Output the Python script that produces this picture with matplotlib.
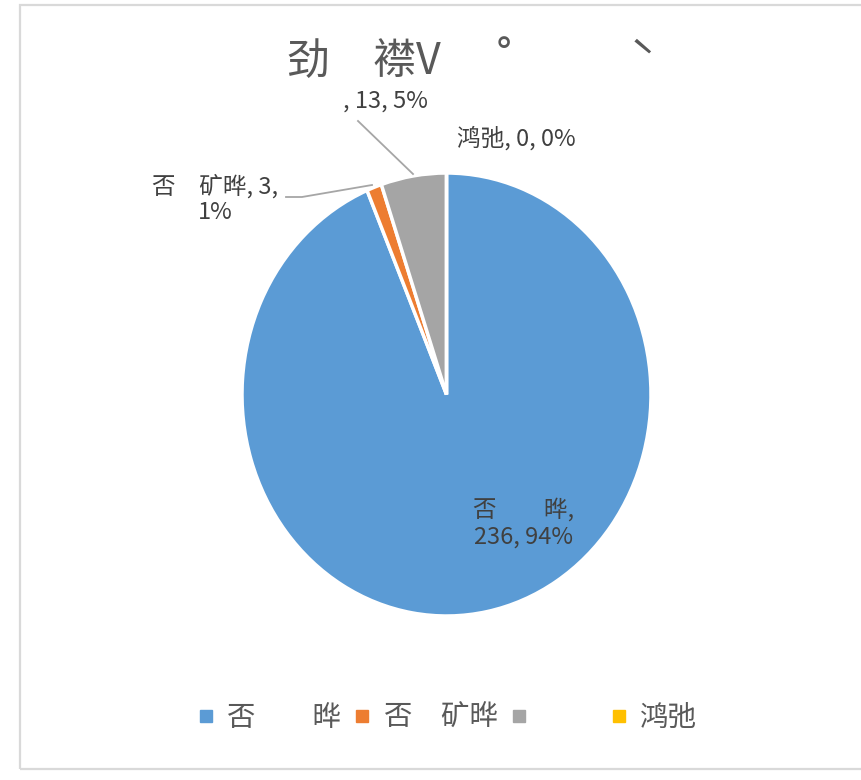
import matplotlib.pyplot as plt
from matplotlib.lines import Line2D
from matplotlib.patches import Rectangle

plt.rcParams['font.family'] = ['Noto Sans CJK SC', 'DejaVu Sans']

# data
names = ['否　　晔', '否　矿晔', '　　', '鸿弛']
values = [236, 3, 13, 0]
colors = ['#5B9BD5', '#ED7D31', '#A5A5A5', '#FFC000']
title = '劲　襟V　 ˚　　   ˋ'

W, H = 862, 780
fig = plt.figure(figsize=(W / 100, H / 100), dpi=100)

# chart border
fig.patches.append(Rectangle((20 / W, 11 / H), 1.0, (764) / H, transform=fig.transFigure,
                             fill=False, edgecolor='#d9d9d9', linewidth=1.6))

# pie axes: centre (446.5, 394.5), slightly stretched vertically like the source
cx, cy, rx, ry = 446.5, 394.5, 204.5, 221.5
ax = fig.add_axes([(cx - rx) / W, (H - cy - ry) / H, 2 * rx / W, 2 * ry / H])
ax.pie(values, colors=colors, startangle=90, counterclock=False, radius=1.0,
       wedgeprops=dict(edgecolor='white', linewidth=2.5))
ax.set_xlim(-1, 1)
ax.set_ylim(-1, 1)
ax.set_aspect('auto')
ax.axis('off')

def px(x, y):
    return (x - cx) / rx, (cy - y) / ry

total = sum(values)
labels = [f'{n}, {v}, {round(v * 100 / total)}%' for n, v in zip(names, values)]
tc = '#404040'
fs = 17

ax.text(*px(524, 523), f'{names[0]},\n{values[0]}, {round(values[0] * 100 / total)}%',
        ha='center', va='center', fontsize=fs, color=tc, linespacing=1.2, clip_on=False)
ax.text(*px(215, 199), f'{names[1]}, {values[1]},\n{round(values[1] * 100 / total)}%',
        ha='center', va='center', fontsize=fs, color=tc, linespacing=1.1, clip_on=False)
ax.text(*px(385, 101), f', {values[2]}, {round(values[2] * 100 / total)}%',
        ha='center', va='center', fontsize=fs, color=tc, clip_on=False)
ax.text(*px(516, 138), labels[3], ha='center', va='center', fontsize=fs, color=tc, clip_on=False)

# leader lines
lx, ly = zip(*[px(286, 197), px(302, 197), px(372, 185)])
ax.plot(lx, ly, color='#a6a6a6', lw=1.3, clip_on=False)
lx, ly = zip(*[px(358, 121), px(413, 174)])
ax.plot(lx, ly, color='#a6a6a6', lw=1.3, clip_on=False)

fig.text(287 / W, 1 - 62 / H, title, ha='left', va='center', fontsize=31, color='#595959')

handles = [Line2D([], [], marker='s', linestyle='none', markersize=8,
                  markerfacecolor=c, markeredgecolor=c) for c in colors]
fig.legend(handles, names, loc='center', bbox_to_anchor=(447 / W, 1 - 718 / H), ncol=4,
           frameon=False, fontsize=20.5, handlelength=0.6, handletextpad=0.45,
           columnspacing=0.45, labelcolor='#595959')

fig.savefig('out.png', dpi=100)
